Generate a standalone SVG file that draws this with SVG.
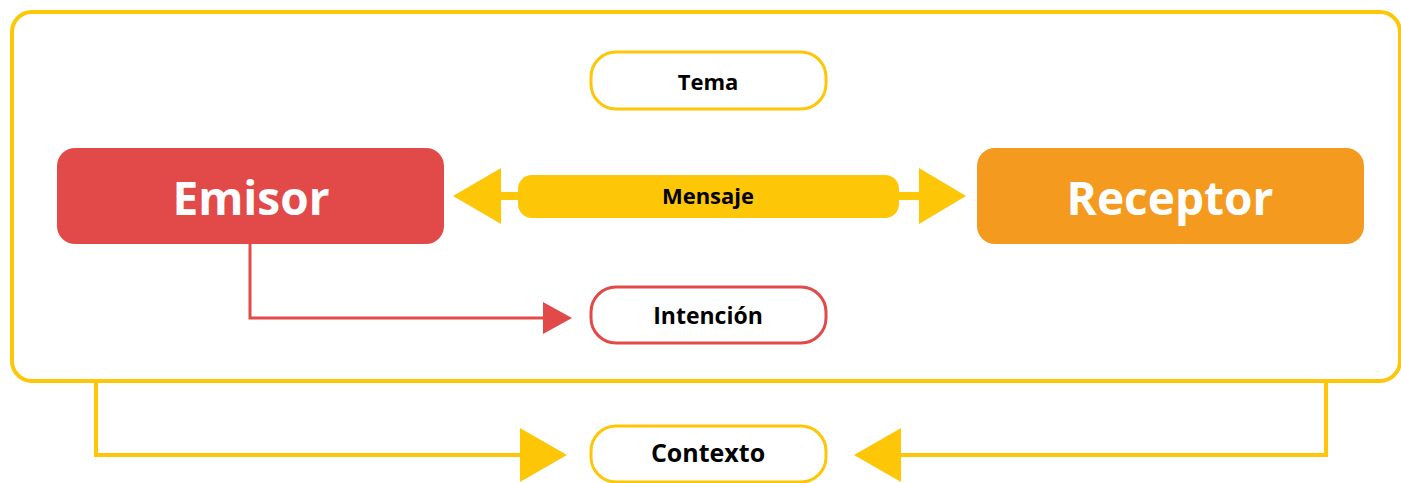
<svg xmlns="http://www.w3.org/2000/svg" width="1401" height="483" viewBox="0 0 1401 483">
<style>
.pill{fill:#fff;stroke-width:3}
.lbl{font-family:"Open Sans","Noto Sans","Liberation Sans",sans-serif;font-weight:700;text-anchor:middle;dominant-baseline:central;fill:#000}
.big{font-family:"Open Sans","Noto Sans","Liberation Sans",sans-serif;font-weight:700;text-anchor:middle;dominant-baseline:central;fill:#fff;font-size:46px}
.y{stroke:#FDC607}
.yf{fill:#FDC607}
</style>
<rect width="1401" height="483" fill="#fff"/>
<g id="frame"><rect x="12" y="12" width="1388" height="369" rx="20" fill="none" stroke="#FDC607" stroke-width="4"/></g>
<g id="connectors">
<path d="M250 244 V318 H545" fill="none" stroke="#E24A4A" stroke-width="3"/>
<polygon points="543,302 572,318 543,334" fill="#E24A4A"/>
<path d="M96 381 V455 H522" fill="none" class="y" stroke-width="4"/>
<polygon points="520,428 567,455 520,482" class="yf"/>
<path d="M1326 381 V455 H899" fill="none" class="y" stroke-width="4"/>
<polygon points="901,428 854,455 901,482" class="yf"/>
<rect x="499" y="192" width="22" height="8" class="yf"/>
<polygon points="501,168 453,196 501,224" class="yf"/>
<rect x="896" y="192" width="25" height="8" class="yf"/>
<polygon points="919,168 966,196 919,224" class="yf"/>
</g>
<g id="tema"><rect x="591" y="52" width="235" height="57" rx="25" class="pill y"/><text x="708" y="81" class="lbl" font-size="22">Tema</text></g>
<g id="emisor"><rect x="57" y="148" width="387" height="96" rx="18" fill="#E24A4A"/><text x="251" y="197" class="big">Emisor</text></g>
<g id="receptor"><rect x="977" y="148" width="387" height="96" rx="18" fill="#F39A1F"/><text x="1170" y="197" class="big">Receptor</text></g>
<g id="mensaje"><rect x="518" y="175" width="381" height="43" rx="14" class="yf"/><text x="708" y="195" class="lbl" font-size="22">Mensaje</text></g>
<g id="intencion"><rect x="591" y="287" width="235" height="56" rx="25" class="pill" stroke="#E24A4A"/><text x="708" y="315" class="lbl" font-size="23">Intención</text></g>
<g id="contexto"><rect x="591" y="426" width="235" height="56" rx="25" class="pill y"/><text x="708" y="452" class="lbl" font-size="25">Contexto</text></g>
</svg>
